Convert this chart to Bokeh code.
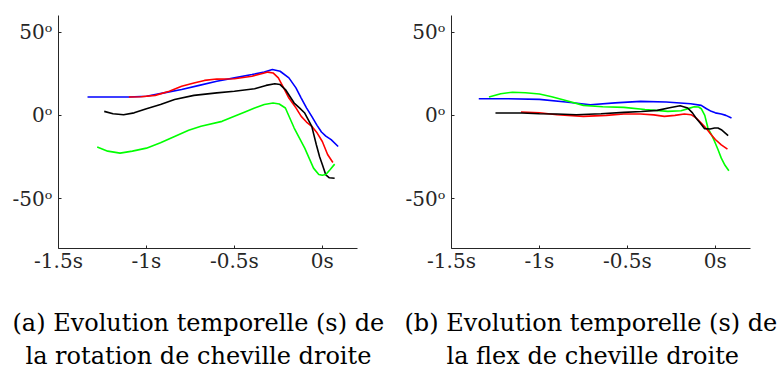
from bokeh.plotting import figure
from bokeh.layouts import row
from bokeh.models import Title, FixedTicker
from bokeh.embed import file_html
from bokeh.resources import INLINE

# ---- data: panel (a) rotation ----
a_blue_t = [-1.335, -1.2, -1.10, -1.0, -0.9, -0.8, -0.7, -0.6, -0.5, -0.4, -0.33, -0.284, -0.24, -0.19, -0.15, -0.12, -0.09, -0.06, -0.03, -0.005, 0.02, 0.05, 0.09]
a_blue_v = [11, 11, 11, 11.5, 13.5, 15.5, 18, 20.5, 22.5, 24.5, 26, 27.5, 26.5, 22.5, 16.5, 10.4, 4.5, -0.6, -6, -10, -12.5, -14.6, -18.7]
a_red_t = [-1.10, -1.03, -0.95, -0.87, -0.80, -0.73, -0.67, -0.6, -0.5, -0.4, -0.33, -0.31, -0.28, -0.25, -0.22, -0.19, -0.15, -0.12, -0.09, -0.06, -0.03, 0.0, 0.03, 0.06]
a_red_v = [11, 11.2, 12, 14.5, 17.5, 19.5, 21, 21.8, 22, 23.5, 25.5, 26, 25.5, 22.5, 16.5, 10.4, 4.5, -0.6, -4, -6.6, -10.5, -15.7, -23.5, -28.3]
a_black_t = [-1.24, -1.19, -1.13, -1.07, -1.0, -0.92, -0.84, -0.73, -0.6, -0.5, -0.385, -0.32, -0.27, -0.24, -0.21, -0.16, -0.13, -0.10, -0.06, -0.034, -0.015, 0.0, 0.02, 0.04, 0.07]
a_black_v = [2.4, 1.0, 0.4, 1.5, 4, 6.5, 9.5, 12, 13.5, 14.5, 16, 18, 19, 18.5, 15.5, 7.4, 4.5, 1.4, -6.6, -17.7, -25, -29.5, -35.8, -37.5, -37.8]
a_green_t = [-1.28, -1.22, -1.15, -1.08, -1.0, -0.92, -0.84, -0.76, -0.69, -0.57, -0.5, -0.44, -0.385, -0.33, -0.28, -0.245, -0.21, -0.16, -0.10, -0.05, -0.02, 0.0, 0.02, 0.045, 0.07]
a_green_v = [-19, -21.5, -22.7, -21.5, -19.7, -16.5, -12.7, -9, -6.6, -3.6, -0.6, 2, 4.4, 6.5, 7.4, 6.8, 4.4, -7.6, -19.7, -31.7, -35.5, -36, -35.5, -32.5, -29.3]

# ---- data: panel (b) flexion ----
b_blue_t = [-1.345, -1.2, -1.0, -0.85, -0.71, -0.57, -0.425, -0.28, -0.14, -0.08, -0.05, -0.023, 0.0, 0.034, 0.06, 0.092]
b_blue_v = [10, 10, 9.6, 8, 6.4, 7.5, 8.4, 8, 7, 6, 4, 2.4, 1.5, 0.8, 0, -1.6]
b_green_t = [-1.287, -1.22, -1.153, -1.08, -1.0, -0.93, -0.866, -0.75, -0.64, -0.52, -0.4, -0.27, -0.195, -0.15, -0.12, -0.095, -0.08, -0.06, -0.042, -0.02, -0.004, 0.015, 0.034, 0.055, 0.077]
b_green_v = [11, 13, 13.9, 13.6, 12.8, 11.2, 9.4, 6, 5.2, 4.8, 3.5, 2.4, 2.8, 4.2, 5.2, 5.0, 4, 0, -7.6, -12, -15.7, -20.5, -25.7, -30, -33.3]
b_black_t = [-1.25, -1.1, -1.0, -0.9, -0.79, -0.65, -0.52, -0.42, -0.33, -0.26, -0.2, -0.157, -0.13, -0.11, -0.085, -0.061, -0.03, -0.004, 0.015, 0.034, 0.055, 0.073]
b_black_v = [1.4, 1.4, 1.0, 0.8, 0.4, 1.0, 1.8, 2.3, 3, 4.6, 5.8, 4.4, 1.5, -1.6, -4.8, -8, -8.2, -7.6, -7.6, -8.6, -10.5, -12.2]
b_red_t = [-1.105, -1.0, -0.9, -0.75, -0.62, -0.52, -0.425, -0.35, -0.29, -0.23, -0.176, -0.138, -0.11, -0.08, -0.05, -0.023, 0.0, 0.034, 0.069]
b_red_v = [2, 1.6, 0.4, -0.6, 0.0, 0.8, 0.8, 0.3, -0.6, 0.0, 0.8, 0.4, -1.5, -4.6, -8, -11.6, -14.5, -17.7, -20.3]

x_ticks = [-1.5, -1.0, -0.5, 0.0]
x_labels = ["-1.5s", "-1s", "-0.5s", "0s"]
y_ticks = [-50, 0, 50]
y_labels = ["-50ᵒ", "0ᵒ", "50ᵒ"]

caption_a = ["(a) Evolution temporelle (s) de", "la rotation de cheville droite"]
caption_b = ["(b) Evolution temporelle (s) de", "la flex de cheville droite"]

FONT = "DejaVu Serif"


def make_panel(series, caption, offsets, width, left):
    p = figure(width=width, height=371, x_range=(-1.5, 0.2), y_range=(-80, 60),
               output_backend="svg", toolbar_location=None,
               min_border_left=left, min_border_right=width - left - 299,
               min_border_top=15, min_border_bottom=0)
    p.outline_line_color = None
    p.grid.visible = False
    for t, v, c in series:
        p.line(t, v, line_color=c, line_width=1.6)
    for ax in (p.xaxis[0], p.yaxis[0]):
        ax.major_tick_in = 3
        ax.major_tick_out = 0
        ax.minor_tick_line_color = None
        ax.axis_line_color = "#262626"
        ax.major_tick_line_color = "#262626"
        ax.major_label_text_font = FONT
        ax.major_label_text_font_size = "20px"
        ax.major_label_text_color = "#262626"
    p.xaxis.ticker = FixedTicker(ticks=x_ticks)
    p.xaxis.major_label_overrides = {t: l for t, l in zip(x_ticks, x_labels)}
    p.yaxis.ticker = FixedTicker(ticks=y_ticks)
    p.yaxis.major_label_overrides = {t: l for t, l in zip(y_ticks, y_labels)}
    p.xaxis.major_label_standoff = 0
    p.yaxis.major_label_standoff = 6
    # spacer between tick labels and caption
    p.add_layout(Title(text="\u00a0", text_font=FONT, text_font_size="20px", standoff=4), "below")
    for i, line in enumerate(caption):
        t = Title(text=line, align="left", offset=offsets[i], text_font=FONT,
                  text_font_size="24px", text_font_style="normal", text_color="black",
                  standoff=(2 if i == 0 else 4))
        p.add_layout(t, "below")
    return p


p1 = make_panel([(a_blue_t, a_blue_v, "#0000ff"), (a_red_t, a_red_v, "#ff0000"),
                 (a_black_t, a_black_v, "#000000"), (a_green_t, a_green_v, "#00ff00")],
                caption_a, [-46, -33], 390, 58)
p2 = make_panel([(b_blue_t, b_blue_v, "#0000ff"), (b_green_t, b_green_v, "#00ff00"),
                 (b_red_t, b_red_v, "#ff0000"), (b_black_t, b_black_v, "#000000")],
                caption_b, [-47, -5], 390, 61)

layout = row(p1, p2, spacing=0)
open("out.html", "w").write(file_html(layout, INLINE))
